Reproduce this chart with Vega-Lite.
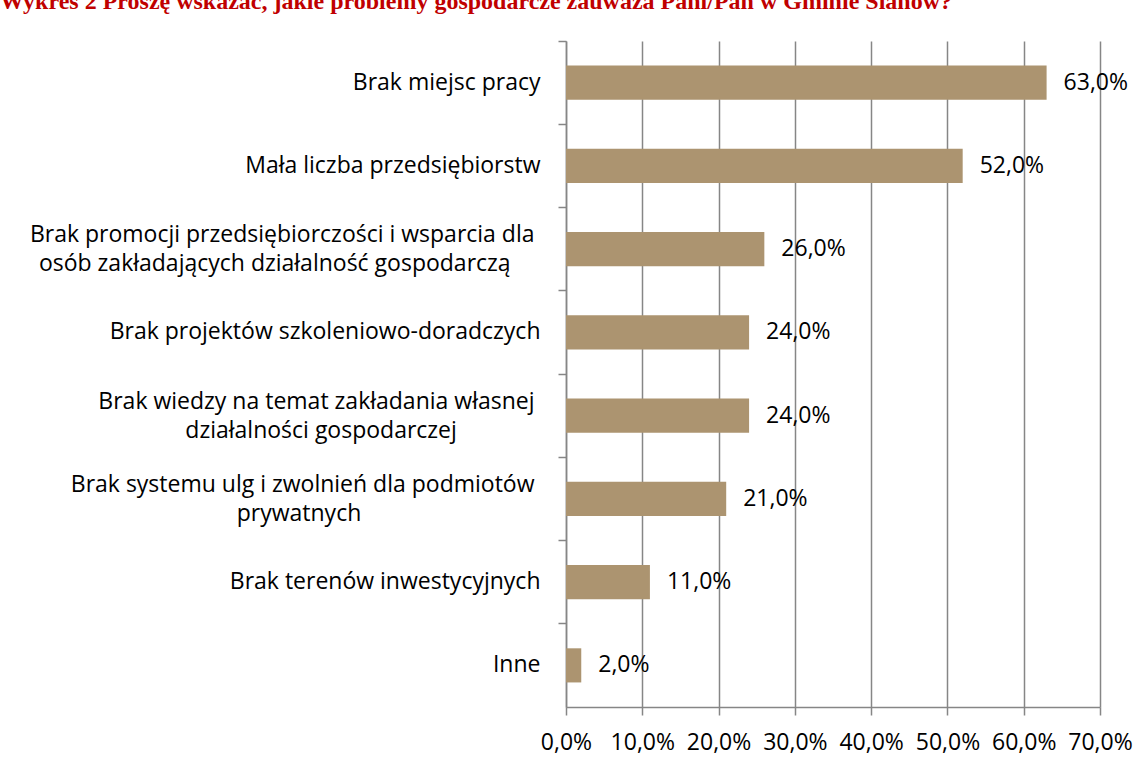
{
  "$schema": "https://vega.github.io/schema/vega-lite/v6.json",
  "width": 534,
  "height": 666,
  "autosize": {"type": "none"},
  "padding": {"left": 566, "top": 41, "right": 47, "bottom": 60},
  "background": "white",
  "title": {
    "text": "Wykres 2 Proszę wskazać, jakie problemy gospodarcze zauważa Pani/Pan w Gminie Sianów?",
    "anchor": "start",
    "frame": "group",
    "dx": -566,
    "dy": 21,
    "offset": 28,
    "baseline": "alphabetic",
    "font": "Liberation Serif",
    "fontWeight": "bold",
    "fontSize": 24,
    "color": "#C00000"
  },
  "config": {
    "locale": {"number": {"decimal": ",", "thousands": " ", "grouping": [3], "currency": ["", " zł"]}},
    "view": {"stroke": null},
    "font": "Open Sans"
  },
  "data": {
    "values": [
      {"problem": "Brak miejsc pracy", "value": 0.63},
      {"problem": "Mała liczba przedsiębiorstw", "value": 0.52},
      {"problem": "Brak promocji przedsiębiorczości i wsparcia dla|osób zakładających działalność gospodarczą", "value": 0.26},
      {"problem": "Brak projektów szkoleniowo-doradczych", "value": 0.24},
      {"problem": "Brak wiedzy na temat zakładania własnej|działalności gospodarczej", "value": 0.24},
      {"problem": "Brak systemu ulg i zwolnień dla podmiotów|prywatnych", "value": 0.21},
      {"problem": "Brak terenów inwestycyjnych", "value": 0.11},
      {"problem": "Inne", "value": 0.02}
    ]
  },
  "encoding": {
    "y": {
      "field": "problem",
      "type": "nominal",
      "sort": null,
      "scale": {"paddingInner": 0, "paddingOuter": 0},
      "axis": {
        "title": null,
        "bandPosition": 0,
        "tickSize": 8,
        "tickColor": "#868686",
        "tickWidth": 1.5,
        "domainColor": "#868686",
        "domainWidth": 1.5,
        "labelFontSize": 23,
        "labelColor": "#000000",
        "labelPadding": 18,
        "labelLimit": 0,
        "labelLineHeight": 29,
        "labelOffset": {"condition": {"test": "indexof(datum.value, '|') >= 0", "value": -14}, "value": 0},
        "labelExpr": "length(split(datum.label,'|')) > 1 ? [split(datum.label,'|')[0] + '\u00a0\u200b', split(datum.label,'|')[1] + pad('', floor((length(split(datum.label,'|')[0]) - length(split(datum.label,'|')[1])) * 0.95) + 1, '\u00a0') + '\u200b'] : datum.label"
      }
    },
    "x": {
      "field": "value",
      "type": "quantitative",
      "scale": {"domain": [0, 0.7], "nice": false},
      "axis": {
        "title": null,
        "format": ".1%",
        "values": [0, 0.1, 0.2, 0.3, 0.4, 0.5, 0.6, 0.7],
        "grid": true,
        "gridColor": "#868686",
        "gridWidth": 1.5,
        "tickSize": 8,
        "tickColor": "#868686",
        "tickWidth": 1.5,
        "domainColor": "#868686",
        "domainWidth": 1.5,
        "labelFontSize": 23,
        "labelColor": "#000000",
        "labelPadding": 16,
        "labelFlush": false
      }
    }
  },
  "layer": [
    {
      "mark": {"type": "bar", "color": "#AC9470", "height": {"band": 0.41}}
    },
    {
      "mark": {"type": "text", "align": "left", "baseline": "middle", "dx": 17, "fontSize": 23, "color": "#000000"},
      "encoding": {"text": {"field": "value", "type": "quantitative", "format": ".1%"}}
    }
  ]
}
